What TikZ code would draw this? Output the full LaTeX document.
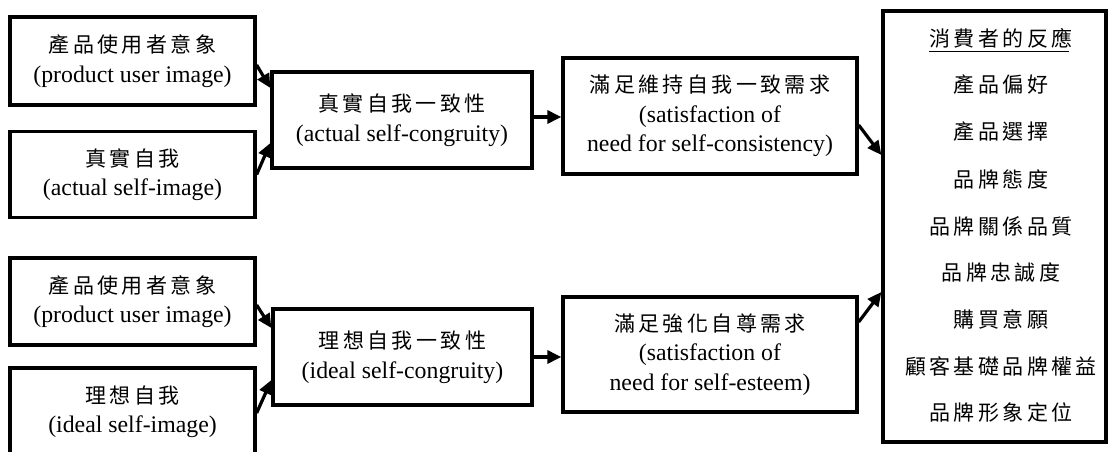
\documentclass[tikz,border=0pt]{standalone}
\usepackage{fontspec}
\setmainfont{Liberation Serif}
\newfontfamily\cjkfont[LetterSpace=16]{Noto Sans CJK TC}
\newcommand\cjktext[1]{{\fontsize{21}{30}\cjkfont #1}}
\usetikzlibrary{arrows.meta}

\tikzset{
  box/.style={draw, line width=3.3pt, inner sep=0pt, align=center,
    font=\fontsize{23.8}{29.5}\selectfont},
  item/.style={inner sep=0pt, font=\fontsize{21}{24}\cjkfont},
  link/.style={line width=3.2pt, -{Triangle[length=14pt,width=13pt]}},
}

\begin{document}
\begin{tikzpicture}[x=1pt, y=-1pt]
\useasboundingbox (0,0) rectangle (1109,452);
\clip (0,0) rectangle (1109,452);

% actual self path
\node[box, minimum width=245pt, minimum height=88pt] (a1) at (132.5,61)
  {\cjktext{產品使用者意象}\\(product user image)};
\node[box, minimum width=245pt, minimum height=86pt] (a2) at (132.5,174.5)
  {\cjktext{真實自我}\\(actual self-image)};
\node[box, minimum width=260pt, minimum height=96pt] (a3) at (402,120)
  {\cjktext{真實自我一致性}\\(actual self-congruity)};
\node[box, minimum width=294pt, minimum height=116pt] (a4) at (710,116)
  {\cjktext{滿足維持自我一致需求}\\(satisfaction of\\need for self-consistency)};

% ideal self path
\node[box, minimum width=245pt, minimum height=87pt] (b1) at (132.5,301.5)
  {\cjktext{產品使用者意象}\\(product user image)};
\node[box, minimum width=245pt, minimum height=87pt] (b2) at (132.5,411.5)
  {\cjktext{理想自我}\\(ideal self-image)};
\node[box, minimum width=259pt, minimum height=96pt] (b3) at (402.5,357)
  {\cjktext{理想自我一致性}\\(ideal self-congruity)};
\node[box, minimum width=294pt, minimum height=115pt] (b4) at (710,354.5)
  {\cjktext{滿足強化自尊需求}\\(satisfaction of\\need for self-esteem)};

% consumer responses
\node[box, minimum width=223pt, minimum height=431pt] (r) at (994.5,226.5) {};
\node[item] (r0) at (1001,38) {消費者的反應};
\draw[line width=1.2pt] ([yshift=-3pt]r0.south west) -- ([yshift=-3pt,xshift=-3.4pt]r0.south east);
\node[item] (r1) at (1001,85) {產品偏好};
\node[item] (r2) at (1001,132) {產品選擇};
\node[item] (r3) at (1001,179) {品牌態度};
\node[item] (r4) at (1001,226) {品牌關係品質};
\node[item] (r5) at (1001,272) {品牌忠誠度};
\node[item] (r6) at (1001,319) {購買意願};
\node[item] (r7) at (1001,366) {顧客基礎品牌權益};
\node[item] (r8) at (1001,413) {品牌形象定位};

% connectors
\draw[link] ([yshift=-4pt]a1.east) -- ([yshift=32pt]a3.west);
\draw[link] (a2.east) -- ([yshift=-23pt]a3.west);
\draw[link] ([yshift=3pt]a3.east) -- ([yshift=-1pt]a4.west);
\draw[link] ([yshift=-9pt]a4.east) -- ([yshift=71.5pt]r.west);

\draw[link] ([yshift=-3.5pt]b1.east) -- ([yshift=29pt]b3.west);
\draw[link] ([yshift=-1.5pt]b2.east) -- ([yshift=-23pt]b3.west);
\draw[link] (b3.east) -- ([yshift=-2.5pt]b4.west);
\draw[link] ([yshift=32.5pt]b4.east) -- ([yshift=-65.5pt]r.west);
\end{tikzpicture}
\end{document}
